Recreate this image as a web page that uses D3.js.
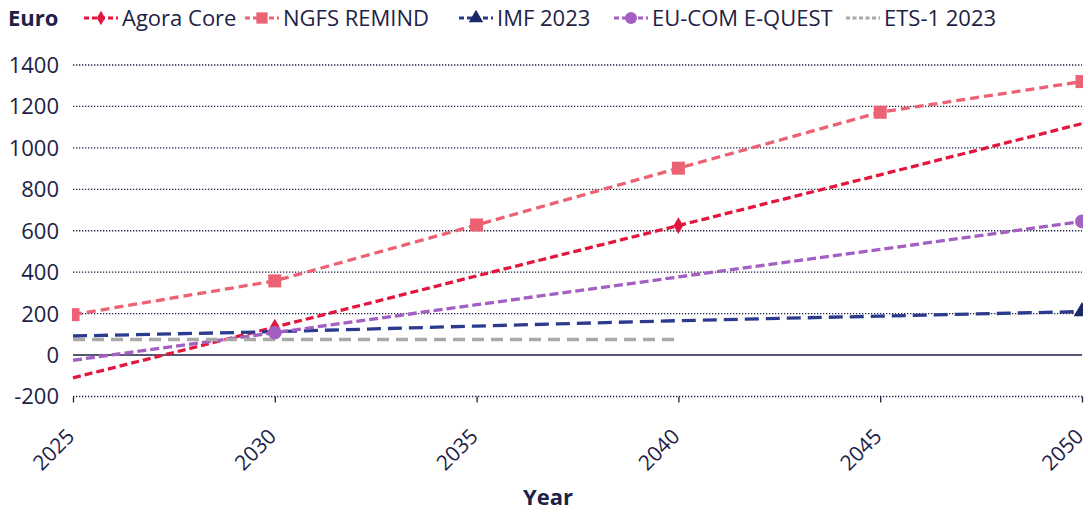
<!DOCTYPE html>
<html>
<head>
<meta charset="utf-8">
<script src="https://cdn.jsdelivr.net/npm/d3@7"></script>
<style>
  body { margin: 0; background: #fff; }
  text { font-family: "Open Sans", "Noto Sans", sans-serif; fill: #1d2246; }
</style>
</head>
<body>
<script>
// data
var years = [2025, 2030, 2035, 2040, 2045, 2050];
var agoraCore = [-110, 135, 382, 625, 870, 1117];
var ngfsRemind = [195, 358, 628, 902, 1172, 1320];
var imf2023 = [92, 113, 140, 166, 188, 210];
var euComEQuest = [-25, 108, 243, 377, 510, 645];
var ets2023Years = [2025, 2030, 2035, 2040];
var ets2023 = [75, 75, 75, 75];
var yTicks = [-200, 0, 200, 400, 600, 800, 1000, 1200, 1400];

var series = [
  {name: "Agora Core", years: years, values: agoraCore, color: "#e3173e", dash: "8,4", marker: "diamond", markAt: [2030, 2040]},
  {name: "NGFS REMIND", years: years, values: ngfsRemind, color: "#ec6275", dash: "9,5", marker: "square", markAt: years},
  {name: "IMF 2023", years: years, values: imf2023, color: "#2c3b8e", dash: "14,7", marker: "triangle", markAt: [2050], markColor: "#1a2866"},
  {name: "EU-COM E-QUEST", years: years, values: euComEQuest, color: "#a35fc1", dash: "9,4", marker: "circle", markAt: [2030, 2050]},
  {name: "ETS-1 2023", years: ets2023Years, values: ets2023, color: "#a9a9a9", dash: "12,7", marker: null, markAt: []}
];

var width = 1088, height = 513;
var svg = d3.select("body").append("svg").attr("width", width).attr("height", height);

var x = d3.scaleLinear().domain([2025, 2050]).range([73, 1082]);
var y = d3.scaleLinear().domain([-200, 1400]).range([396.5, 65]);

var symbols = {diamond: d3.symbolDiamond, square: d3.symbolSquare, triangle: d3.symbolTriangle, circle: d3.symbolCircle};
var symSize = {diamond: 80, square: 170, triangle: 120, circle: 150};

svg.append("clipPath").attr("id", "plotclip")
  .append("rect").attr("x", x(2025) - 1).attr("y", 0)
  .attr("width", x(2050) - x(2025) + 2).attr("height", height);

// gridlines
svg.append("g").selectAll("line")
  .data(yTicks.filter(function(d){ return d != 0; }))
  .enter().append("line")
  .attr("x1", x(2025)).attr("x2", x(2050))
  .attr("y1", function(d){ return y(d); }).attr("y2", function(d){ return y(d); })
  .attr("stroke", "#1d2246").attr("stroke-width", 1.3).attr("stroke-dasharray", "1.3,1.7");

// zero line
svg.append("line")
  .attr("x1", x(2025)).attr("x2", x(2050))
  .attr("y1", y(0)).attr("y2", y(0))
  .attr("stroke", "#1d2246").attr("stroke-width", 1.5);

// y tick labels
svg.append("g").selectAll("text")
  .data(yTicks).enter().append("text")
  .attr("x", 59).attr("y", function(d){ return y(d); })
  .attr("dy", "0.36em").attr("text-anchor", "end")
  .attr("font-size", 22)
  .text(function(d){ return d; });

// x axis ticks
var xAxis = d3.axisBottom(x).tickValues(years).tickSize(6).tickFormat(d3.format("d"));
var gx = svg.append("g").attr("transform", "translate(0," + y(-200) + ")").call(xAxis);
gx.select(".domain").remove();
gx.selectAll(".tick line").attr("stroke", "#1d2246").attr("stroke-width", 1.3);
gx.selectAll(".tick text")
  .attr("font-size", 21).attr("fill", "#1d2246")
  .attr("font-family", "'Open Sans', 'Noto Sans', sans-serif")
  .attr("text-anchor", "end")
  .attr("transform", "translate(-3,36) rotate(-45)")
  .attr("dy", "0.35em").attr("y", 0).attr("x", 0);

svg.append("text").attr("x", 548).attr("y", 505)
  .attr("text-anchor", "middle").attr("font-size", 22).attr("font-weight", "bold")
  .text("Year");

var plot = svg.append("g").attr("clip-path", "url(#plotclip)");

// series lines
series.forEach(function(s){
  var pts = s.years.map(function(yr, i){ return [yr, s.values[i]]; });
  var line = d3.line().x(function(d){ return x(d[0]); }).y(function(d){ return y(d[1]); });
  plot.append("path").datum(pts)
    .attr("d", line).attr("fill", "none")
    .attr("stroke", s.color).attr("stroke-width", 3.3)
    .attr("stroke-dasharray", s.dash);
});

// markers
series.forEach(function(s){
  if (!s.marker) return;
  var pts = s.years.map(function(yr, i){ return [yr, s.values[i]]; })
    .filter(function(d){ return s.markAt.indexOf(d[0]) >= 0; });
  plot.append("g").selectAll("path").data(pts).enter().append("path")
    .attr("d", d3.symbol().type(symbols[s.marker]).size(symSize[s.marker]))
    .attr("transform", function(d){ return "translate(" + x(d[0]) + "," + y(d[1]) + ")"; })
    .attr("fill", s.markColor || s.color);
});

// legend
svg.append("text").attr("x", 8).attr("y", 26).attr("font-size", 22).attr("font-weight", "bold").text("Euro");
var legendTextX = [122, 283, 497, 652, 884];
series.forEach(function(s, i){
  var g = svg.append("g").attr("transform", "translate(" + (legendTextX[i] - 38) + ",18)");
  g.append("line").attr("x1", 0).attr("x2", 34).attr("y1", 0).attr("y2", 0)
    .attr("stroke", s.color).attr("stroke-width", 3)
    .attr("stroke-dasharray", s.marker ? "5,3" : "4,2.5");
  if (s.marker) {
    g.append("path")
      .attr("d", d3.symbol().type(symbols[s.marker]).size(symSize[s.marker] * 0.75))
      .attr("transform", "translate(17,0)")
      .attr("fill", s.markColor || s.color);
  }
  g.append("text").attr("x", 38).attr("y", 0).attr("dy", "0.36em")
    .attr("font-size", 22).text(s.name);
});
</script>
</body>
</html>
